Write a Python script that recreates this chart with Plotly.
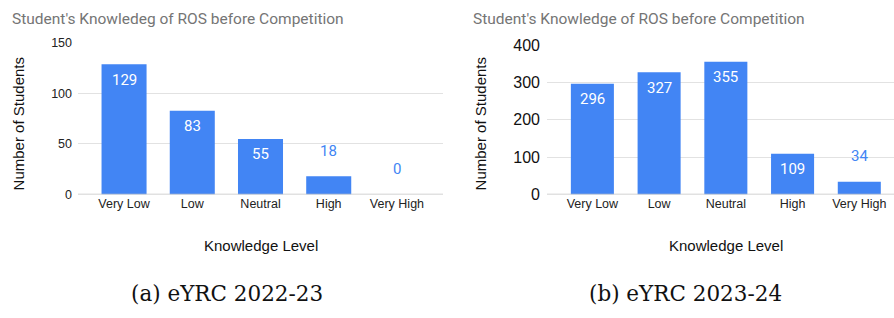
import plotly.graph_objects as go

categories = ["Very Low", "Low", "Neutral", "High", "Very High"]
values_2223 = [129, 83, 55, 18, 0]
values_2324 = [296, 327, 355, 109, 34]
ticks_2223 = [0, 50, 100, 150]
ticks_2324 = [0, 100, 200, 300, 400]

BLUE = "#4285F4"
W, H = 894, 318

def px_x(p):
    return p / W

def px_y(p):
    return 1 - p / H

fig = go.Figure()
fig.add_trace(go.Bar(
    x=list(range(len(categories))), y=values_2223, marker_color=BLUE,
    marker_line_width=0, xaxis="x", yaxis="y", width=0.66, showlegend=False,
))
fig.add_trace(go.Bar(
    x=list(range(len(categories))), y=values_2324, marker_color=BLUE,
    marker_line_width=0, xaxis="x2", yaxis="y2", width=0.645, showlegend=False,
))

axis_common = dict(showline=False, zeroline=False, ticks="", fixedrange=True)

fig.update_layout(
    width=W, height=H, margin=dict(l=0, r=0, t=0, b=0),
    plot_bgcolor="white", paper_bgcolor="white",
    font=dict(family="Liberation Sans", color="#222222"),
    xaxis=dict(domain=[px_x(78), px_x(443)], range=[-0.675, 4.675],
               tickmode="array", tickvals=list(range(5)), ticktext=categories,
               showgrid=False, tickfont=dict(size=12.5, color="#222222"),
               anchor="y", **axis_common),
    yaxis=dict(domain=[px_y(197), px_y(37)], range=[0, 150],
               tickvals=ticks_2223, showgrid=True, gridcolor="#e2e2e2",
               tickfont=dict(size=12.5, color="#222222"), ticklabelstandoff=5,
               anchor="x", **axis_common),
    xaxis2=dict(domain=[px_x(547), 1.0], range=[-0.68, 4.52],
                tickmode="array", tickvals=list(range(5)), ticktext=categories,
                showgrid=False, tickfont=dict(size=12.5, color="#222222"),
                anchor="y2", **axis_common),
    yaxis2=dict(domain=[px_y(197), px_y(39)], range=[0, 400],
                tickvals=ticks_2324, showgrid=True, gridcolor="#e2e2e2",
                tickfont=dict(size=16, color="#111111"), ticklabelstandoff=6,
                anchor="x2", **axis_common),
    bargap=0.34,
)

# baseline lines at zero
for xa, ya in [("x", "y"), ("x2", "y2")]:
    fig.add_shape(type="line", xref=f"{xa} domain", yref=ya, x0=0, x1=1, y0=0, y1=0,
                  line=dict(color="#c4c4c4", width=1.6), layer="above")

ann = []
# data labels: inside (white) for tall bars, above (blue) for short ones
for xa, ya, vals, vmax in [("x", "y", values_2223, 150), ("x2", "y2", values_2324, 400)]:
    for i, v in enumerate(vals):
        inside = v / vmax >= 0.2
        ann.append(dict(text=str(v), x=i, y=v, xref=xa, yref=ya, showarrow=False,
                        xanchor="center", yanchor="middle",
                        yshift=-15.5 if inside else 25.5,
                        font=dict(size=15, family="Roboto",
                                  color="white" if inside else BLUE)))

paper_ann = []
# chart titles
paper_ann.append(dict(text="Student's Knowledeg of ROS before Competition", x=px_x(10), y=px_y(12),
                      xanchor="left", yanchor="middle", font=dict(size=15.5, color="#757575", family="Roboto")))
paper_ann.append(dict(text="Student's Knowledge of ROS before Competition", x=px_x(471), y=px_y(12),
                      xanchor="left", yanchor="middle", font=dict(size=15.5, color="#757575", family="Roboto")))
# y axis titles
paper_ann.append(dict(text="Number of Students", x=px_x(18), y=px_y(123), textangle=-90,
                      xanchor="center", yanchor="middle", font=dict(size=15, color="#111111")))
paper_ann.append(dict(text="Number of Students", x=px_x(480), y=px_y(123), textangle=-90,
                      xanchor="center", yanchor="middle", font=dict(size=15, color="#111111")))
# x axis titles
paper_ann.append(dict(text="Knowledge Level", x=px_x(261), y=px_y(251),
                      xanchor="center", yanchor="middle", font=dict(size=15, color="#111111")))
paper_ann.append(dict(text="Knowledge Level", x=px_x(726), y=px_y(251),
                      xanchor="center", yanchor="middle", font=dict(size=15, color="#111111")))
# captions
paper_ann.append(dict(text="(a) eYRC 2022-23", x=px_x(227), y=px_y(302),
                      xanchor="center", yanchor="middle", font=dict(size=21.5, color="#111111", family="DejaVu Serif")))
paper_ann.append(dict(text="(b) eYRC 2023-24", x=px_x(685), y=px_y(302),
                      xanchor="center", yanchor="middle", font=dict(size=21.5, color="#111111", family="DejaVu Serif")))
for a in paper_ann:
    a.update(xref="paper", yref="paper", showarrow=False)
fig.update_layout(annotations=ann + paper_ann)

fig.write_html(
    "out.html",
    config={"displayModeBar": False, "staticPlot": True},
    post_script=(
        "document.documentElement.style.margin='0';document.body.style.margin='0';"
        "document.body.style.overflow='hidden';document.documentElement.style.overflow='hidden';"
        "var d=document.getElementById('{plot_id}');d.style.position='fixed';"
        "d.style.top='0px';d.style.left='0px';"
    ),
)
